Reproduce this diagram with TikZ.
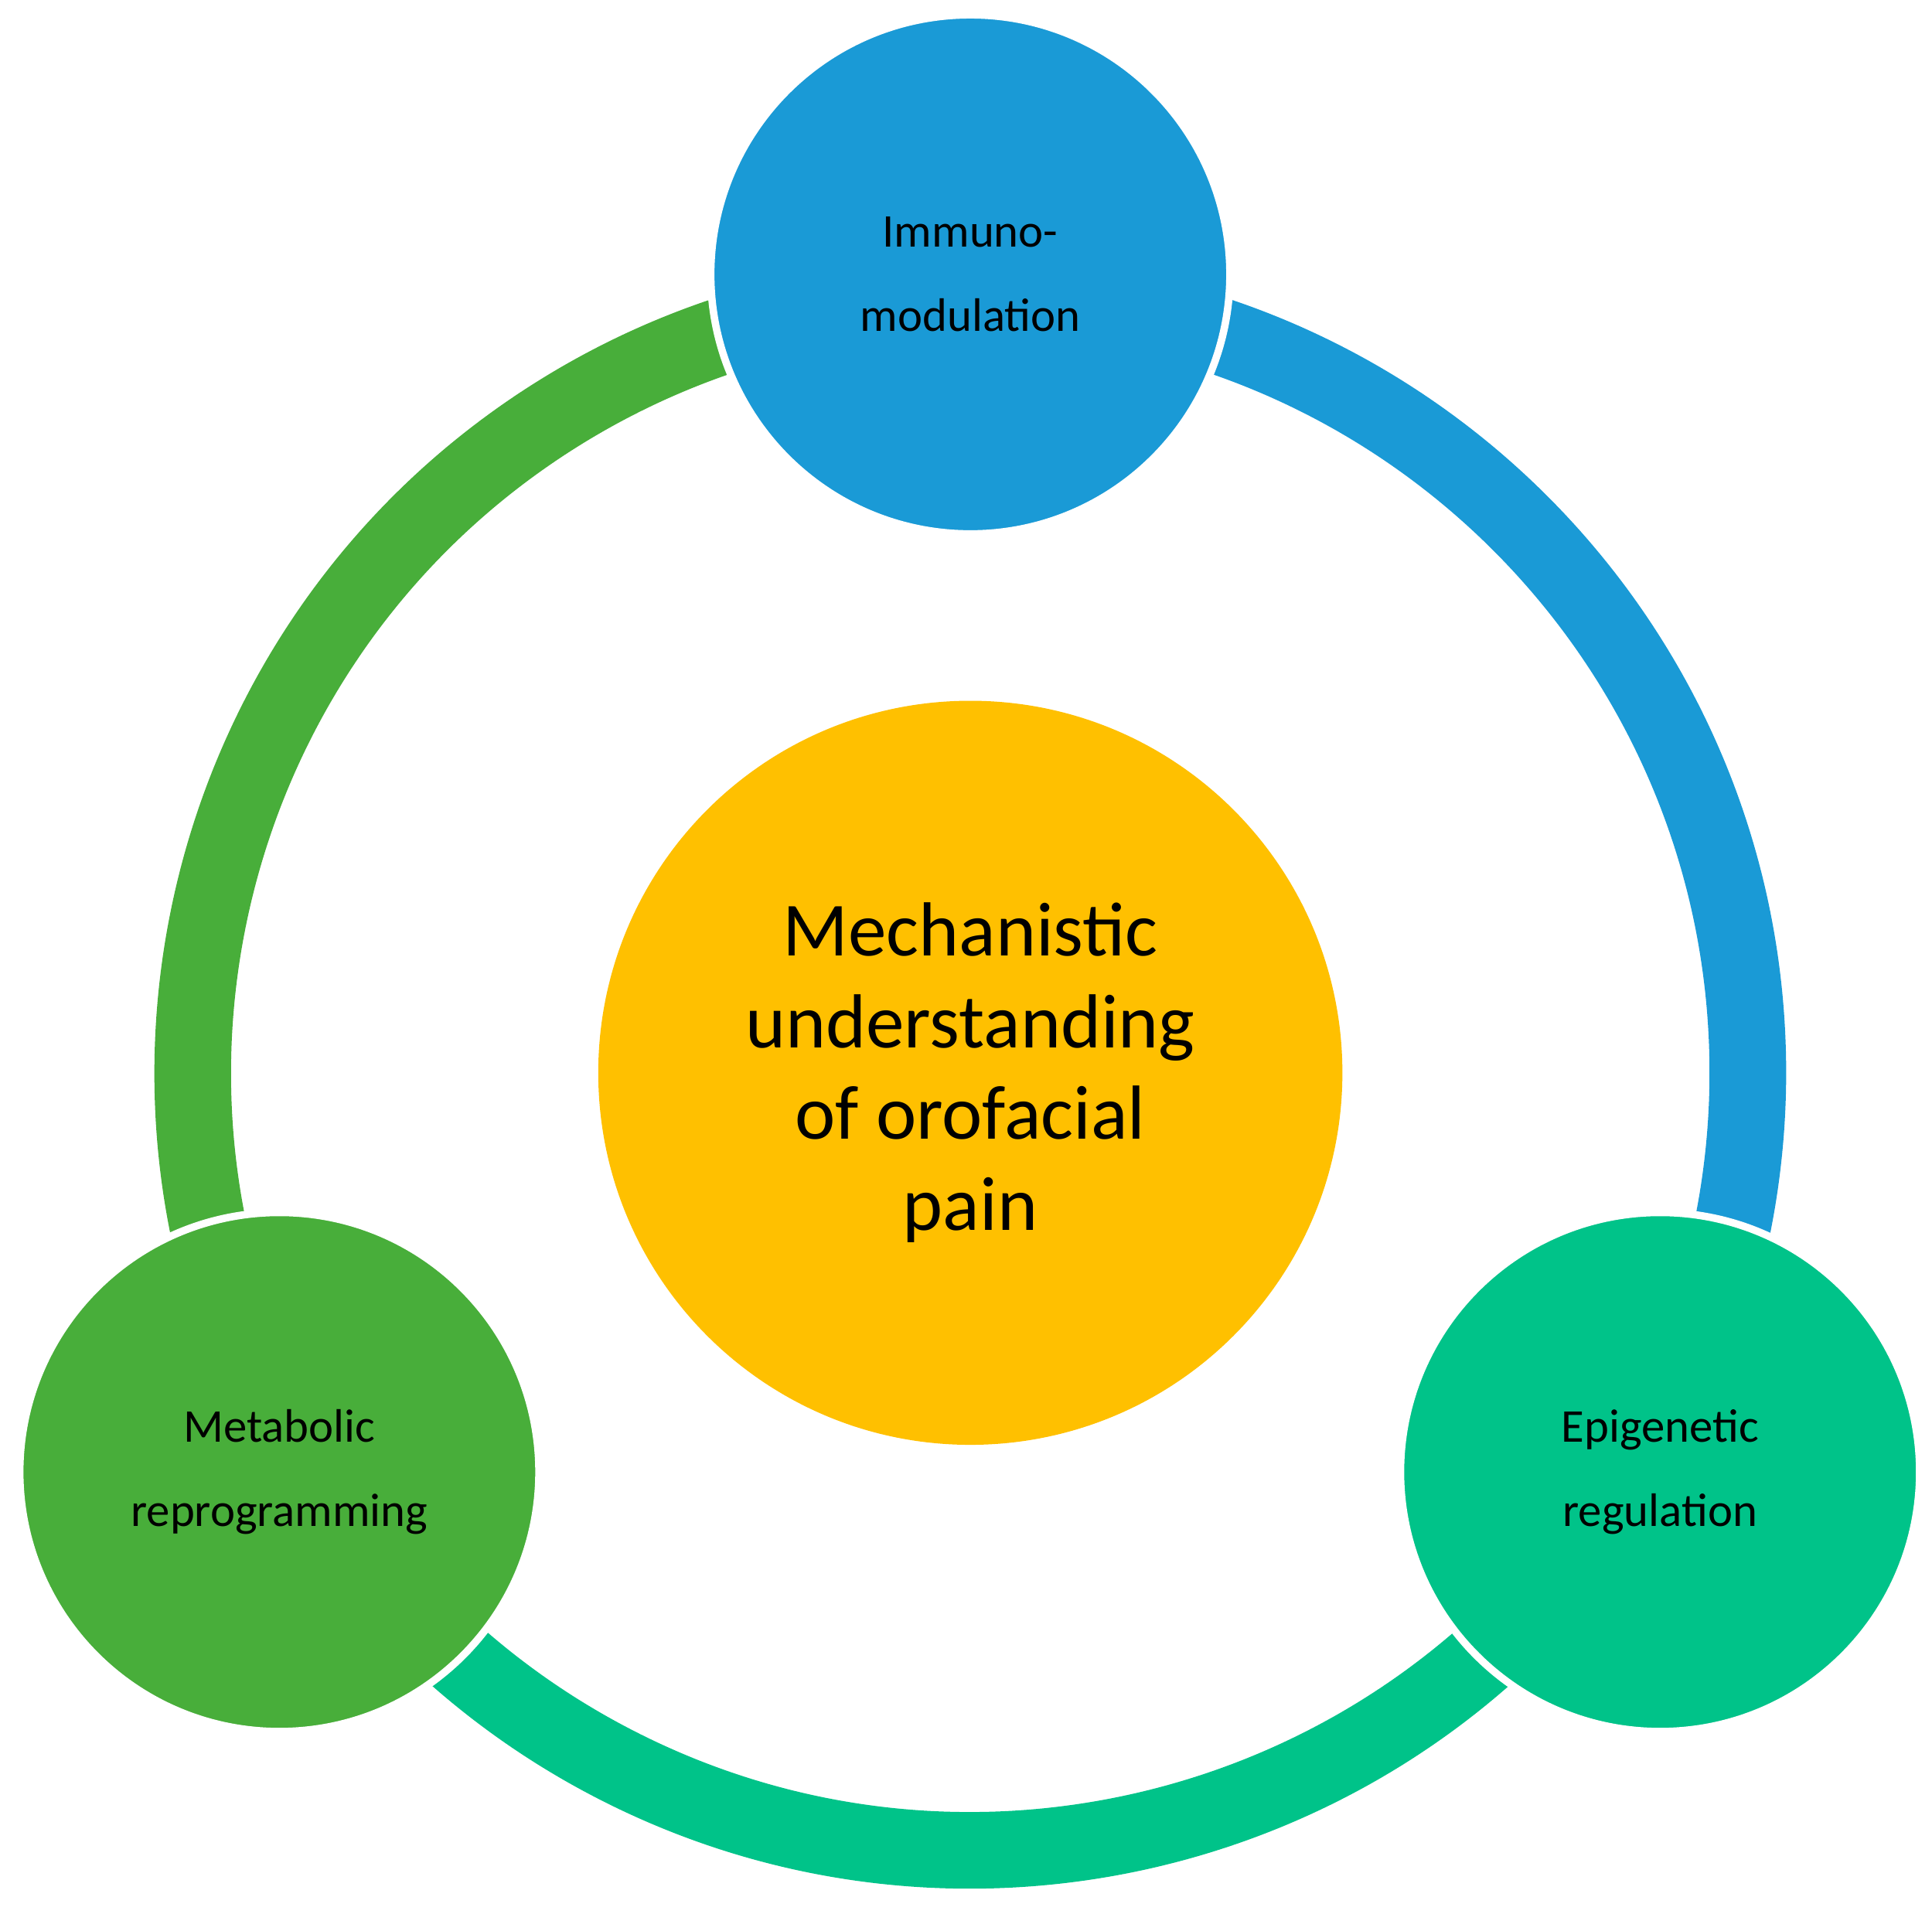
\documentclass[tikz,border=0pt]{standalone}
\usepackage{fontspec}
\setmainfont{Carlito}
\definecolor{cblue}{HTML}{1A9AD6}
\definecolor{cgreen}{HTML}{48AE3A}
\definecolor{cteal}{HTML}{00C389}
\definecolor{cyel}{HTML}{FFC000}
\begin{document}
\begin{tikzpicture}[x=0.5pt,y=0.5pt,
  ring/.style={line width=31pt},
  sat/.style={circle,minimum size=210pt,inner sep=0pt,draw=white,line width=3pt,align=center,font=\fontsize{19}{34}\selectfont},
]
\useasboundingbox (0,0) rectangle (1563,1548);
\coordinate (c) at (785,680);
\draw[ring,cblue] ([shift={(90:314.5pt)}]c) arc[start angle=90,end angle=-30,radius=314.5pt];
\draw[ring,cteal] ([shift={(-30:314.5pt)}]c) arc[start angle=-30,end angle=-150,radius=314.5pt];
\draw[ring,cgreen] ([shift={(210:314.5pt)}]c) arc[start angle=210,end angle=90,radius=314.5pt];
\node[circle,fill=cyel,minimum size=301pt,inner sep=0pt,align=center,font=\fontsize{31}{37}\selectfont] (m) at (c) {Mechanistic\\understanding\\of orofacial\\pain};
\node[sat,fill=cblue] (i) at (785,1326) {Immuno-\\modulation};
\node[sat,fill=cgreen] (g) at (226,357) {Metabolic\\reprogramming};
\node[sat,fill=cteal] (e) at (1343,357) {Epigenetic\\regulation};
\end{tikzpicture}
\end{document}
